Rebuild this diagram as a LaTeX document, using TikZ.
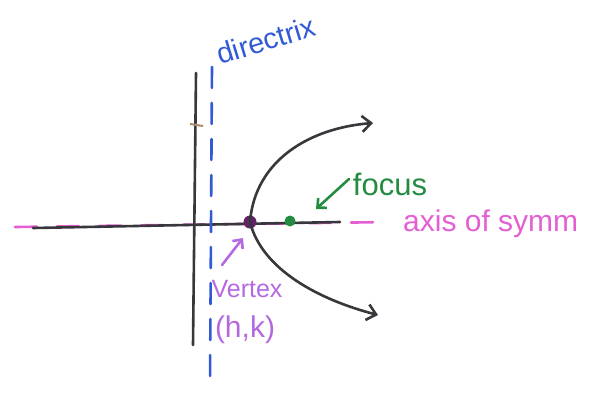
\documentclass[tikz,border=0pt]{standalone}
\usepackage{fontspec}
\setmainfont{Liberation Sans}
\usetikzlibrary{arrows.meta}
\definecolor{axisblack}{RGB}{55,55,60}
\definecolor{dirblue}{RGB}{50,90,215}
\definecolor{sympink}{RGB}{228,95,210}
\definecolor{vtxpurple}{RGB}{180,105,225}
\definecolor{vtxdot}{RGB}{100,35,105}
\definecolor{focgreen}{RGB}{35,140,65}
\definecolor{tickbrown}{RGB}{170,140,110}
\begin{document}
\begin{tikzpicture}[x=1pt,y=-1pt,
  pen/.style={line width=2.6pt,line cap=round,line join=round},
  curvepen/.style={pen,draw=axisblack,-{Straight Barb[length=9pt,width=16pt,line width=2.6pt]}},
  lbl/.style={inner sep=0pt,anchor=center}]
\useasboundingbox (0,0) rectangle (589,392);
% axis of symmetry (behind)
\draw[pen,sympink,dash pattern=on 22pt off 20pt] (15,227) coordinate (s1) -- (392,222) coordinate (s2);
% axes
\draw[pen,axisblack] (196,73) coordinate (ytop) -- (193,345) coordinate (ybot);
\draw[pen,axisblack] (33,228) coordinate (xl) -- (340,222) coordinate (xr);
\draw[line width=2pt,tickbrown] (190,124) -- (203,126);
% directrix
\draw[pen,dirblue,dash pattern=on 21pt off 15pt] (212,67) coordinate (d1) -- (210,385) coordinate (d2);
% vertex and focus
\node[circle,fill=vtxdot,minimum size=13pt,inner sep=0pt] (vertex) at (250,222) {};
\node[circle,fill=focgreen,minimum size=11pt,inner sep=0pt] (focus) at (290,221) {};
% parabola
\coordinate (up) at (373,123);
\coordinate (lo) at (378,315);
\draw[curvepen] (vertex.center) .. controls (255,160) and (310,128) .. (up);
\draw[curvepen] (vertex.center) .. controls (262,270) and (320,300) .. (lo);
% labels
\node[lbl,text=dirblue,font=\fontsize{29}{29}\selectfont,rotate=17] (dirlbl) at (266,40) {directrix};
\node[lbl,text=focgreen,font=\fontsize{31}{31}\selectfont] (foclbl) at (390,184) {focus};
\node[lbl,text=sympink,font=\fontsize{30}{30}\selectfont,anchor=west] (symlbl) at (403,224) {axis of symm};
\node[lbl,text=vtxpurple,font=\fontsize{25}{25}\selectfont] (vtxlbl) at (247,289) {Vertex};
\node[lbl,text=vtxpurple,font=\fontsize{30}{30}\selectfont] (hklbl) at (245,330) {(h,k)};
% pointer arrows
\coordinate (fa) at (349,179);
\coordinate (ft) at (316,209);
\draw[pen,focgreen,-{Straight Barb[length=7pt,width=13pt,line width=2.6pt]}] (fa) -- (ft);
\coordinate (va) at (222,265);
\coordinate (vt) at (243,238);
\draw[pen,vtxpurple,-{Straight Barb[length=7pt,width=13pt,line width=2.6pt]}] (va) -- (vt);
\end{tikzpicture}
\end{document}
